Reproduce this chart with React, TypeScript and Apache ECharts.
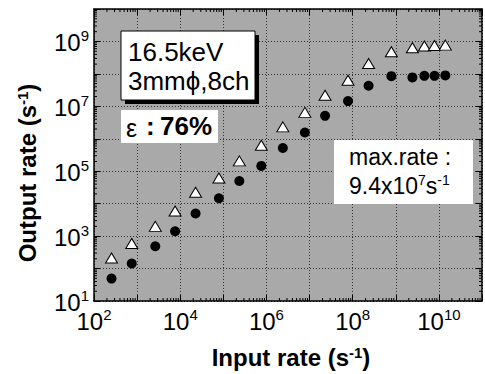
import React, { useEffect, useRef } from 'react';
import * as echarts from 'echarts';

const FONT = "'Liberation Sans', Arial, Helvetica, sans-serif";

// Input rate (s^-1)
const inputRate = [255, 750, 2640, 7600, 22700, 79000, 235000, 760000, 2.4e6, 7.8e6, 2.29e7, 7.8e7, 2.34e8, 7.9e8, 2.43e9, 4.6e9, 7.9e9, 1.41e10];
// Output rate, open triangles
const outputTriangle = [212, 590, 2000, 5970, 22500, 62000, 208000, 635000, 2.33e6, 6.5e6, 2.2e7, 6.4e7, 2.1e8, 4.8e8, 6.4e8, 7.2e8, 7.5e8, 7.7e8];
// Output rate, filled circles
const outputCircle = [49, 143, 487, 1410, 4970, 14700, 50000, 146000, 520000, 1.56e6, 5.1e6, 1.45e7, 4.3e7, 8.5e7, 7.8e7, 8.7e7, 8.7e7, 8.95e7];

// axis ranges
const X_MIN = 1e2;
const X_MAX = 1e11;
const Y_MIN = 1e1;
const Y_MAX = 1e10;
const X_DECADES = [2, 3, 4, 5, 6, 7, 8, 9, 10];
const Y_DECADES = [1, 2, 3, 4, 5, 6, 7, 8, 9];
const MINOR_FACTORS = [2, 3, 4, 5, 6, 7, 8, 9];

const xMinorTicks = X_DECADES.flatMap((e) => MINOR_FACTORS.map((f) => [f * Math.pow(10, e), Y_MIN]));
const yMinorTicks = Y_DECADES.flatMap((e) => MINOR_FACTORS.map((f) => [X_MIN, f * Math.pow(10, e)]));

const triData = inputRate.map((x, i) => [x, outputTriangle[i]]);
const cirData = inputRate.map((x, i) => [x, outputCircle[i]]);

const labelRich = {
  b: { fontSize: 24, fontFamily: FONT, color: '#000', verticalAlign: 'bottom' as const },
  s: { fontSize: 15, fontFamily: FONT, color: '#000', verticalAlign: 'bottom' as const, padding: [0, 0, 11, 0] },
};

const expOf = (v: number) => Math.round(Math.log10(v));

export default function App() {
  const ref = useRef<HTMLDivElement>(null);
  useEffect(() => {
    const chart = echarts.init(ref.current!, null, { renderer: 'svg' });
    const tickLine = { stroke: '#000', lineWidth: 1 };
    const option: any = {
      animation: false,
      backgroundColor: '#fff',
      grid: {
        left: 94,
        top: 9,
        right: 1,
        bottom: 73,
        show: true,
        backgroundColor: '#a9a9a9',
        borderWidth: 0,
      },
      xAxis: [
        {
          type: 'log',
          logBase: 10,
          min: X_MIN,
          max: X_MAX,
          splitNumber: 10,
          position: 'bottom',
          axisLine: { show: true, onZero: false, lineStyle: { color: '#000', width: 1.5 } },
          axisTick: { show: true, inside: true, length: 6, lineStyle: { color: '#000', width: 1 } },
          splitLine: { show: true, lineStyle: { color: '#333', type: [1, 2], width: 1 } },
          axisLabel: {
            margin: 6,
            showMinLabel: true,
            formatter: (v: number) => {
              const e = expOf(v);
              return e % 2 === 0 ? `{b|10}{s|${e}}` : '';
            },
            rich: labelRich,
          },
        },
        {
          type: 'log',
          logBase: 10,
          min: X_MIN,
          max: X_MAX,
          splitNumber: 10,
          position: 'top',
          axisLine: { show: true, onZero: false, lineStyle: { color: '#000', width: 1.5 } },
          axisTick: { show: true, inside: true, length: 6, lineStyle: { color: '#000', width: 1 } },
          splitLine: { show: false },
          axisLabel: { show: false },
        },
      ],
      yAxis: [
        {
          type: 'log',
          logBase: 10,
          min: Y_MIN,
          max: Y_MAX,
          splitNumber: 10,
          position: 'left',
          axisLine: { show: true, onZero: false, lineStyle: { color: '#000', width: 1.5 } },
          axisTick: { show: true, inside: true, length: 6, lineStyle: { color: '#000', width: 1 } },
          splitLine: { show: true, lineStyle: { color: '#333', type: [1, 2], width: 1 } },
          axisLabel: {
            margin: 5,
            showMinLabel: true,
            formatter: (v: number) => {
              const e = expOf(v);
              return e % 2 === 1 ? `{b|10}{s|${e}}` : '';
            },
            rich: labelRich,
          },
        },
        {
          type: 'log',
          logBase: 10,
          min: Y_MIN,
          max: Y_MAX,
          splitNumber: 10,
          position: 'right',
          axisLine: { show: true, onZero: false, lineStyle: { color: '#000', width: 1.5 } },
          axisTick: { show: true, inside: true, length: 6, lineStyle: { color: '#000', width: 1 } },
          splitLine: { show: false },
          axisLabel: { show: false },
        },
      ],
      series: [
        {
          type: 'custom',
          xAxisIndex: 0,
          yAxisIndex: 0,
          silent: true,
          clip: false,
          data: xMinorTicks,
          renderItem: (params: any, api: any) => {
            const cs = params.coordSys;
            const x = api.coord([api.value(0), Y_MIN])[0];
            return {
              type: 'group',
              children: [
                { type: 'line', shape: { x1: x, y1: cs.y + cs.height, x2: x, y2: cs.y + cs.height - 3 }, style: tickLine },
                { type: 'line', shape: { x1: x, y1: cs.y, x2: x, y2: cs.y + 3 }, style: tickLine },
              ],
            };
          },
          z: 5,
        },
        {
          type: 'custom',
          xAxisIndex: 0,
          yAxisIndex: 0,
          silent: true,
          clip: false,
          data: yMinorTicks,
          renderItem: (params: any, api: any) => {
            const cs = params.coordSys;
            const y = api.coord([X_MIN, api.value(1)])[1];
            return {
              type: 'group',
              children: [
                { type: 'line', shape: { x1: cs.x, y1: y, x2: cs.x + 3, y2: y }, style: tickLine },
                { type: 'line', shape: { x1: cs.x + cs.width, y1: y, x2: cs.x + cs.width - 3, y2: y }, style: tickLine },
              ],
            };
          },
          z: 5,
        },
        {
          type: 'scatter',
          name: 'triangle',
          symbol: 'triangle',
          symbolSize: [12, 10],
          itemStyle: { color: '#fff', borderColor: '#000', borderWidth: 1, opacity: 1 },
          data: triData,
          z: 10,
        },
        {
          type: 'scatter',
          name: 'circle',
          symbol: 'circle',
          symbolSize: 10,
          itemStyle: { color: '#000', opacity: 1 },
          data: cirData,
          z: 10,
        },
      ],
      graphic: [
        // box 1 with shadow
        { type: 'rect', shape: { x: 125, y: 35, width: 134, height: 69 }, style: { fill: '#000' }, z: 100 },
        { type: 'rect', shape: { x: 121, y: 31, width: 134, height: 69 }, style: { fill: '#fff', stroke: '#000', lineWidth: 1 }, z: 101 },
        { type: 'text', x: 128, y: 51.5, z: 102, style: { text: '16.5keV', fontSize: 26, fontFamily: FONT, fill: '#000', verticalAlign: 'middle' } },
        { type: 'text', x: 128, y: 81, z: 102, style: { text: '3mmϕ,8ch', fontSize: 26, fontFamily: FONT, fill: '#000', verticalAlign: 'middle' } },
        // box 2
        { type: 'rect', shape: { x: 121, y: 110, width: 97, height: 33 }, style: { fill: '#fff' }, z: 100 },
        { type: 'text', x: 126, y: 128, z: 102, style: { text: 'ε', fontSize: 25, fontFamily: FONT, fill: '#000', verticalAlign: 'middle' } },
        { type: 'text', x: 146, y: 125.5, z: 102, style: { text: ':', fontSize: 26, fontWeight: 'bold', fontFamily: FONT, fill: '#000', verticalAlign: 'middle' } },
        { type: 'text', x: 160, y: 125.5, z: 102, style: { text: '76%', fontSize: 26, fontWeight: 'bold', fontFamily: FONT, fill: '#000', verticalAlign: 'middle' } },
        // box 3
        { type: 'rect', shape: { x: 334, y: 140, width: 139, height: 64 }, style: { fill: '#fff' }, z: 100 },
        { type: 'text', x: 349, y: 157, z: 102, style: { text: 'max.rate :', fontSize: 23, fontFamily: FONT, fill: '#000', verticalAlign: 'middle' } },
        {
          type: 'text', x: 349, y: 185, z: 102,
          style: {
            text: '{n|9.4x10}{s|7}{n|s}{s|-1}',
            verticalAlign: 'middle',
            rich: {
              n: { fontSize: 23, fontFamily: FONT, fill: '#000', color: '#000', verticalAlign: 'bottom' },
              s: { fontSize: 14, fontFamily: FONT, fill: '#000', color: '#000', verticalAlign: 'bottom', padding: [0, 0, 10, 0] },
            },
          },
        },
        // axis titles
        {
          type: 'text', x: 291, y: 357, z: 102,
          style: {
            text: '{t|Input rate (s}{s|-1}{t|)}',
            align: 'center',
            verticalAlign: 'middle',
            rich: {
              t: { fontSize: 24, fontWeight: 'bold', fontFamily: FONT, color: '#000', verticalAlign: 'bottom' },
              s: { fontSize: 15, fontWeight: 'bold', fontFamily: FONT, color: '#000', verticalAlign: 'bottom', padding: [0, 0, 10, 0] },
            },
          },
        },
        {
          type: 'text', x: 27, y: 173, rotation: Math.PI / 2, z: 102,
          style: {
            text: '{t|Output rate (s}{s|-1}{t|)}',
            align: 'center',
            verticalAlign: 'middle',
            rich: {
              t: { fontSize: 24, fontWeight: 'bold', fontFamily: FONT, color: '#000', verticalAlign: 'bottom' },
              s: { fontSize: 15, fontWeight: 'bold', fontFamily: FONT, color: '#000', verticalAlign: 'bottom', padding: [0, 0, 10, 0] },
            },
          },
        },
      ],
    };
    chart.setOption(option);
    return () => chart.dispose();
  }, []);
  return <div ref={ref} style={{ position: 'fixed', left: 0, top: 0, width: 485, height: 374, background: '#fff' }} />;
}
